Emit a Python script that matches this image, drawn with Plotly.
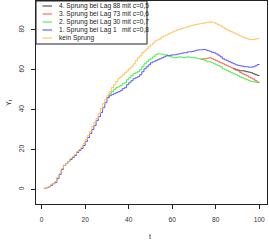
import plotly.graph_objects as go

t = list(range(1, 101))

kein_sprung = [0.5,1,1.5,2.5,3,4,6,8,10.5,12, 13,14,15.5,16.5,17.5,19,20,21,23,25,
               27,29,31.5,33.5,35.5,38,40.5,43,45,47, 49,51,52.5,54,55.5,56.5,57.5,58.5,59.5,60.5,
               61.5,63,64.5,66,67,68.5,69.5,70.5,71.5,72.5, 73.5,74.5,75,75.5,76.5,77,77.5,78,78.5,79,
               79.5,80,80.3,80.7,81,81.3,81.7,82,82.3,82.6, 82.8,83,83.2,83.4,83.6,83.8,84,83.8,83.6,83,
               82.5,82,81.3,80.6,80,79.5,79,78.5,78,77.5, 77,76.5,76,75.6,75.3,75.2,75.2,75.4,75.6,75.8]

sprung1 = [0.5,0.8,1.2,2,2.8,3.5,5.5,7.5,10,12, 13,14,15,16,17,18.5,19.5,20.5,22,24,
           26,28,30,32,34.5,36.5,38.5,41,43.5,46, 47,47.5,48,48.5,49,49.5,50.5,51,52.5,53.5,
           54.5,55.5,56,56.5,57.5,59,60.5,61.5,62.5,63.5, 64,64.5,65,65.5,66,66.5,67,67,67.3,67.5,
           67.5,67.8,68,68.3,68.5,68.5,69,69,69.2,69.5, 69.8,70,70,70.2,70,69.6,69.3,68.8,68.5,68,
           67.3,66.5,65.5,65,64.5,64,63.5,63,62.5,62.2, 62,61.8,61.5,61.5,61.3,61.3,61.5,62,62.6,62.8]

# values from t=31 on (equal to sprung1 before)
sprung2_ab31 = [48,49,50,51,51.5,52,53,53.5,55,56, 57,58,58.5,59,60,61.5,63,64,65,65.5,
                66.5,67.5,68,68,67.8,67.5,67.5,67,66.5,66.2, 66,66.2,66.5,66.3,66,66.3,66.5,66.2,66,66,
                65.8,65.5,65.3,65,64.5,64,64,63.5,63,62.5, 62,61.5,60.5,60,59.5,59,58.5,58,57.5,57,
                56.3,56,55.5,55,54.5,54.2,54,53.8,53.6,53.6]
# values from t=74 on (equal to sprung2 before)
sprung3_ab74 = [65.5,65.5,65.8,66,65.5,65,64.5,64,63.5,63, 62.5,62,61.5,61,60.5,60,59.5,58.6,58,57.5,
                57,56.3,55.8,55.3,54.5,53.8,53.3]
# values from t=89 on (equal to sprung3 before)
sprung4_ab89 = [60,59.8,59.5,59.5,59.3,59,58.8,58.5,58,57.5,57.2,57]

sprung2 = sprung1[:30] + sprung2_ab31
sprung3 = sprung2[:73] + sprung3_ab74
sprung4 = sprung3[:88] + sprung4_ab89

labels = ["4. Sprung bei Lag 88 mit c=0,5",
          "3. Sprung bei Lag 73 mit c=0,6",
          "2. Sprung bei Lag 30 mit c=0,7",
          "1. Sprung bei Lag 1\u00a0\u00a0\u00a0mit c=0,8",
          "kein Sprung"]
colors = ["#333333", "#ff4848", "#30ee30", "#4545ff", "#ffbb48"]
starts = [88, 73, 30, 1, 1]
series = [sprung4, sprung3, sprung2, sprung1, kein_sprung]

fig = go.Figure()
for ys, c, s in zip(series, colors, starts):
    fig.add_trace(go.Scatter(x=t[s-1:], y=ys[s-1:], mode="lines", line=dict(color=c, width=0.9, shape="hv"),
                             showlegend=False, hoverinfo="skip"))

FONT = "Liberation Sans, Arial, sans-serif"
W, H = 269, 242
L, R, T, B = 36, 2, 1, 38
pw, ph = W - L - R, H - T - B

def px(x):
    return (x - L) / pw

def py(y):
    return (H - B - y) / ph

# manual legend box (R style)
fig.add_shape(type="rect", xref="paper", yref="paper", x0=0, x1=px(147), y0=py(44), y1=1,
              line=dict(color="#222222", width=1), fillcolor="white", layer="above")
rows = [6, 14, 22, 30, 38]
for lab, c, r in zip(labels, colors, rows):
    fig.add_shape(type="line", xref="paper", yref="paper", x0=px(42.5), x1=px(52), y0=py(r), y1=py(r),
                  line=dict(color=c, width=1), layer="above")
    fig.add_annotation(xref="paper", yref="paper", x=px(56.5), y=py(r), text=lab, showarrow=False,
                       xanchor="left", yanchor="middle", font=dict(family=FONT, size=6.6, color="#222"))

# axis titles
fig.add_annotation(xref="paper", yref="paper", x=px(150), y=py(237), text="t", showarrow=False,
                   xanchor="center", yanchor="middle", font=dict(family=FONT, size=7, color="#222"))
fig.add_annotation(xref="paper", yref="paper", x=px(9), y=py(103), text="Y<sub>t</sub>", showarrow=False,
                   textangle=-90, xanchor="center", yanchor="middle", font=dict(family=FONT, size=7, color="#222"))

fig.update_layout(
    width=W, height=H, autosize=False,
    margin=dict(l=L, r=R, t=T, b=B, pad=0),
    plot_bgcolor="white", paper_bgcolor="white",
    font=dict(family=FONT, size=6.6, color="#333"),
    xaxis=dict(range=[-2.62, 103.55], tickvals=[0, 20, 40, 60, 80, 100], ticks="outside", ticklen=4,
               tickcolor="#222", showline=True, mirror=True, linecolor="#222", linewidth=1,
               showgrid=False, zeroline=False, ticklabelstandoff=5),
    yaxis=dict(range=[-7.35, 94.5], tickvals=[0, 20, 40, 60, 80], ticks="outside", ticklen=4,
               tickcolor="#222", showline=True, mirror=True, linecolor="#222", linewidth=1,
               showgrid=False, zeroline=False, tickangle=-90, ticklabelstandoff=4),
)

fig.write_html("out.html", config={"displayModeBar": False, "staticPlot": True},
               post_script="document.body.style.margin='0px';document.body.style.overflow='hidden';")
